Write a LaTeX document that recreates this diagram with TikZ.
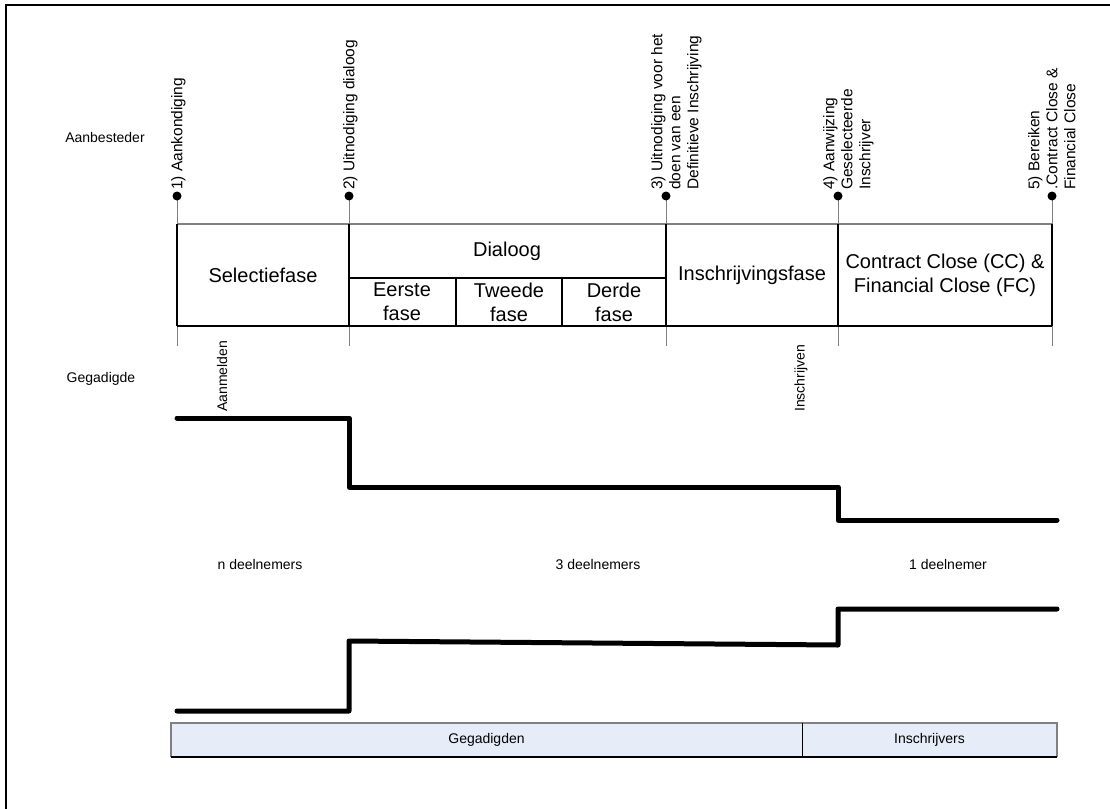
\documentclass[tikz,border=0pt]{standalone}
\usepackage{fontspec}
\setmainfont{Liberation Sans}
\definecolor{barblue}{HTML}{E6EDF8}
\definecolor{tickgray}{HTML}{808080}
\tikzset{
  small/.style={font=\fontsize{14}{17}\selectfont, inner sep=0pt},
  phase/.style={font=\fontsize{20}{24}\selectfont, align=center, inner sep=0pt},
  mile/.style={font=\fontsize{15.5}{18}\selectfont, inner sep=0pt, rotate=90, anchor=north west, align=left},
  vlabel/.style={small, rotate=90, anchor=west},
  tick/.style={draw=tickgray, line width=1pt},
  cell/.style={line width=1.3pt},
  stepline/.style={line width=5pt, line cap=round, line join=round},
  bar/.style={small, fill=barblue, minimum height=34, inner sep=0pt},
}
\begin{document}
\begin{tikzpicture}[x=1pt, y=-1pt]
\useasboundingbox (0,0) rectangle (1110,808);
% frame
\draw[line width=2.5pt] (6,810) -- (6,5) -- (1112,5);

% milestones on the time line
\coordinate (m1) at (177,196);
\coordinate (m2) at (349,196);
\coordinate (m3) at (666,196);
\coordinate (m4) at (838,196);
\coordinate (m5) at (1052,196);
\draw[tick] (m1) -- ++(0,150);
\draw[tick] (m2) -- ++(0,150);
\draw[tick] (m3) -- ++(0,150);
\draw[tick] (m4) -- ++(0,150);
\draw[tick] (m5) -- ++(0,150);
\fill (m1) circle (4.5) (m2) circle (4.5) (m3) circle (4.5) (m4) circle (4.5) (m5) circle (4.5);

\node[mile] (a1) at (171,190) {1) Aankondiging};
\node[mile] (a2) at (343,190) {2) Uitnodiging dialoog};
\node[mile] (a3) at (651,190) {3) Uitnodiging voor het\\doen van een\\Definitieve Inschrijving};
\node[mile] (a4) at (823,190) {4) Aanwijzing\\Geselecteerde\\Inschrijver};
\node[mile] (a5) at (1028,190) {5) Bereiken\\.Contract Close \&\\Financial Close};

\node[small] (aanb) at (105,137) {Aanbesteder};
\node[small] (gega) at (101,379) {Gegadigde};

% phases table
\coordinate (t1) at (177,224);
\coordinate (t5) at (1052,224);
\coordinate (b1) at (177,326);
\coordinate (b5) at (1052,326);
\coordinate (d2) at (349,278);
\coordinate (d3) at (666,278);
\coordinate (s1) at (456,278);
\coordinate (s2) at (562,278);
\draw[cell, tickgray] (t1) -- (t5);
\draw[cell] (b1) -- (b5);
\draw[cell] (t1) -- (b1);
\draw[cell] (t5) -- (b5);
\draw[cell] (m2 |- t1) -- (m2 |- b1);
\draw[cell] (m3 |- t1) -- (m3 |- b1);
\draw[cell] (m4 |- t1) -- (m4 |- b1);
\draw[cell] (d2) -- (d3);
\draw[cell] (s1) -- (s1 |- b1);
\draw[cell] (s2) -- (s2 |- b1);

\node[phase] (sel) at (263,275) {Selectiefase};
\node[phase] (dia) at (507,251) {Dialoog};
\node[phase] (f1) at (402,302) {Eerste\\fase};
\node[phase] (f2) at (509,302) {Tweede\\fase};
\node[phase] (f3) at (614,302) {Derde\\fase};
\node[phase] (ins) at (752,275) {Inschrijvingsfase};
\node[phase] (ccfc) at (945,275) {Contract Close (CC) \&\\Financial Close (FC)};

\node[vlabel] (aanm) at (222,412) {Aanmelden};
\node[vlabel] (inschr) at (801,412) {Inschrijven};

% number of participants
\draw[stepline] (177,418) -| (349,487) -| (838,520) -- (1057,520);
\draw[stepline] (177,711) -| (349,641) -- (838,645) -- (838,609) -- (1057,609);

\node[small] (n1) at (260,564) {n deelnemers};
\node[small] (n3) at (598,564) {3 deelnemers};
\node[small] (n0) at (948,564) {1 deelnemer};

% bottom bars
\node[bar, minimum width=631] (gad) at (486.5,740) {Gegadigden};
\node[bar, minimum width=255] (insb) at (929.5,740) {Inschrijvers};
\draw[tickgray, line width=1.8pt] (gad.south west) -- (gad.north west) -- (insb.north east) -- (insb.south east);
\draw[line width=1.5pt] (gad.south west) -- (insb.south west) -- (insb.south east);
\draw[line width=1pt] (gad.north east) -- (gad.south east);
\end{tikzpicture}
\end{document}
